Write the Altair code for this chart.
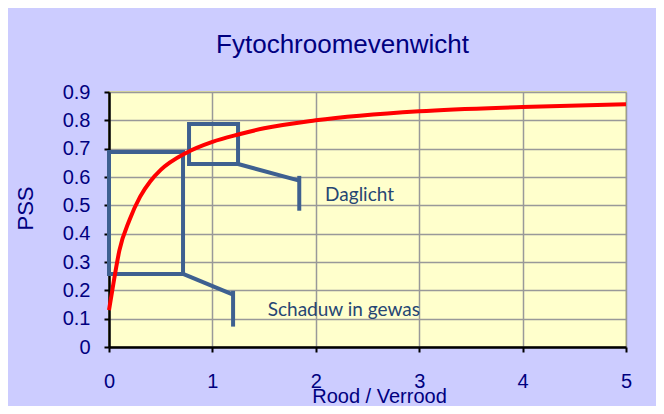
import altair as alt
import pandas as pd

# Red curve: PSS as function of red / far-red ratio
ratio = [0, 0.05, 0.1, 0.2, 0.3, 0.4, 0.5, 0.75, 1.0, 1.25, 1.5, 2.0, 3.0, 4.0, 5.0]
pss = [0.13, 0.24, 0.34, 0.45, 0.53, 0.585, 0.625, 0.686, 0.724, 0.75, 0.772, 0.80, 0.832, 0.847, 0.857]

# Annotation boxes
box_x1 = [0.0, 0.774]
box_x2 = [0.716, 1.248]
box_y1 = [0.258, 0.646]
box_y2 = [0.688, 0.787]

# Leader lines
lead_x1 = [0.716, 1.2, 1.248, 1.84]
lead_y1 = [0.258, 0.198, 0.646, 0.604]
lead_x2 = [1.2, 1.2, 1.84, 1.84]
lead_y2 = [0.185, 0.072, 0.587, 0.481]

# Annotation labels
label_text = ["Daglicht", "Schaduw in gewas"]
label_x = [2.09, 1.535]
label_y = [0.516, 0.109]

x_ticks = [0, 1, 2, 3, 4, 5]
y_ticks = [0, 0.1, 0.2, 0.3, 0.4, 0.5, 0.6, 0.7, 0.8, 0.9]

curve_df = pd.DataFrame({"x": ratio, "y": pss})
box_df = pd.DataFrame({"x1": box_x1, "x2": box_x2, "y1": box_y1, "y2": box_y2})
lead_df = pd.DataFrame({"x1": lead_x1, "x2": lead_x2, "y1": lead_y1, "y2": lead_y2})
label_df = pd.DataFrame({"t": label_text, "x": label_x, "y": label_y})

FONT = "Liberation Sans"
NAVY = "#000080"
BOXC = "#3E6090"
TEXTC = "#264673"

xscale = alt.Scale(domain=[0, 5], nice=False)
yscale = alt.Scale(domain=[0, 0.9], nice=False)

xaxis = alt.Axis(
    values=x_ticks, format="d", labelFont=FONT, labelFontSize=20, labelColor=NAVY,
    labelBaseline="alphabetic", labelPadding=35, labelFlush=False, labelOverlap=False,
    tickSize=5, tickColor="black", tickWidth=2, domainColor="black", domainWidth=2.5,
    grid=True, gridColor="#999999", gridWidth=1.5,
    title="Rood / Verrood", titleFont=FONT, titleFontSize=20, titleColor=NAVY,
    titleFontWeight="normal", titleX=270, titleY=55, titleAlign="center",
    titleBaseline="alphabetic",
)
yaxis = alt.Axis(
    values=y_ticks, format=".1~f", labelFont=FONT, labelFontSize=20, labelColor=NAVY,
    labelPadding=14, labelOverlap=False, labelFlush=False,
    tickSize=5, tickColor="black", tickWidth=2, domainColor="black", domainWidth=2.5,
    grid=True, gridColor="#999999", gridWidth=1.5,
    title="PSS", titleFont=FONT, titleFontSize=22, titleColor=NAVY,
    titleFontWeight="normal", titleX=-84, titleY=116, titleAlign="center",
    titleBaseline="middle", titleAngle=270,
)

curve = alt.Chart(curve_df).mark_line(
    color="#FF0000", strokeWidth=4, interpolate="monotone"
).encode(
    x=alt.X("x:Q", scale=xscale, axis=xaxis),
    y=alt.Y("y:Q", scale=yscale, axis=yaxis),
)

boxes = alt.Chart(box_df).mark_rect(
    fillOpacity=0, stroke=BOXC, strokeWidth=4
).encode(
    x=alt.X("x1:Q", scale=xscale, axis=xaxis), x2="x2:Q",
    y=alt.Y("y1:Q", scale=yscale, axis=yaxis), y2="y2:Q",
)

leads = alt.Chart(lead_df).mark_rule(
    color=BOXC, strokeWidth=4
).encode(
    x=alt.X("x1:Q", scale=xscale, axis=xaxis), x2="x2:Q",
    y=alt.Y("y1:Q", scale=yscale, axis=yaxis), y2="y2:Q",
)

labels = alt.Chart(label_df).mark_text(
    align="left", baseline="alphabetic", font="Lato", fontSize=19, color=TEXTC
).encode(
    x=alt.X("x:Q", scale=xscale, axis=xaxis),
    y=alt.Y("y:Q", scale=yscale, axis=yaxis),
    text="t:N",
)

chart = alt.layer(boxes, leads, curve, labels).properties(
    width=517,
    height=255,
    title=alt.TitleParams(
        "Fytochroomevenwicht", font=FONT, fontSize=26, color=NAVY,
        fontWeight="normal", anchor="middle", frame="group", dx=-25,
        baseline="alphabetic", offset=3,
    ),
    background="#CCCCFF",
    padding={"left": 101, "top": 84, "right": 30, "bottom": 59},
    autosize=alt.AutoSizeParams(type="none"),
).configure_view(
    fill="#FFFFCC", stroke="#E3E39C", strokeWidth=2
)

chart.save("out.html", embed_options={"renderer": "svg", "actions": False})
